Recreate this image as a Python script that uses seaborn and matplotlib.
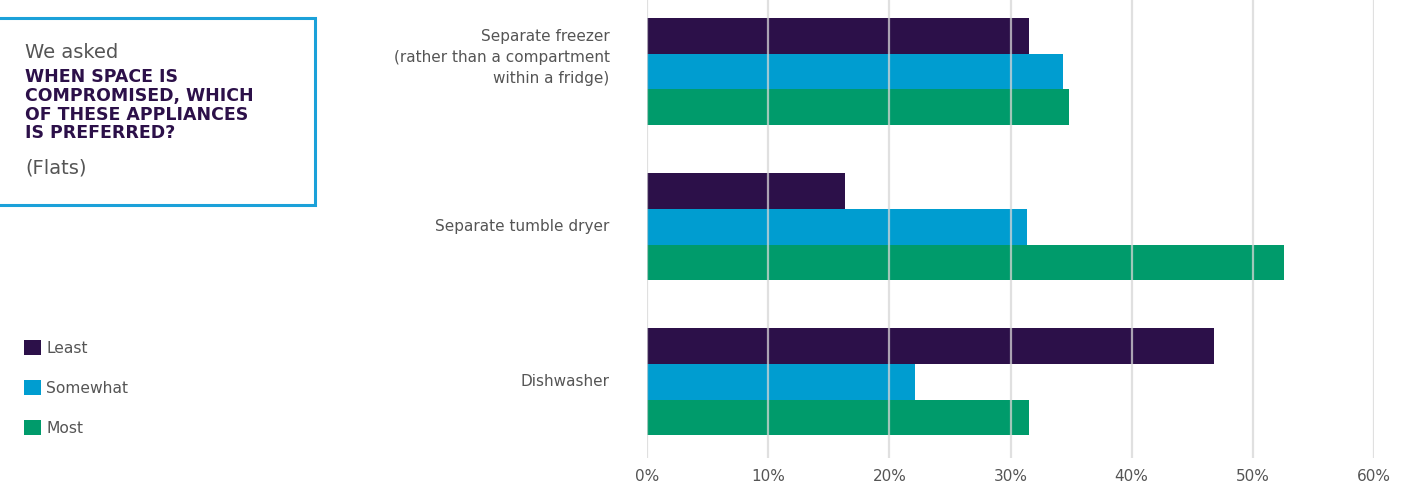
import matplotlib
matplotlib.use("Agg")
import matplotlib.pyplot as plt
import matplotlib.transforms as mtransforms
import seaborn as sns
import pandas as pd
from matplotlib.patches import Rectangle
from matplotlib.ticker import FuncFormatter

categories = ["Separate freezer\n(rather than a compartment\nwithin a fridge)",
              "Separate tumble dryer",
              "Dishwasher"]
series = ["Least", "Somewhat", "Most"]
least = [31.5, 16.3, 46.8]
somewhat = [34.3, 31.4, 22.1]
most = [34.8, 52.6, 31.5]
xticks = [0, 10, 20, 30, 40, 50, 60]
colors = ["#2c1049", "#009dd0", "#009b6b"]

rows = []
for s, vals in zip(series, [least, somewhat, most]):
    for c, v in zip(categories, vals):
        rows.append({"category": c, "series": s, "value": v})
df = pd.DataFrame(rows)

sns.set_theme(style="white")
plt.rcParams['font.family'] = ['DejaVu Sans']

fig = plt.figure(figsize=(14.2, 4.95), dpi=100)
ax = fig.add_axes([647/1420, 1-458/495, (1374-647)/1420, 458/495])

sns.barplot(data=df, y="category", x="value", hue="series", order=categories,
            hue_order=series, palette=colors, width=0.69, gap=0, orient="h",
            saturation=1, ax=ax, legend=True, linewidth=0, edgecolor="none")

ax.set_xlim(0, 60)
ax.set_ylim(2.49, -0.46)
ax.set_xticks(xticks)
ax.xaxis.set_major_formatter(FuncFormatter(lambda v, p: f"{int(v)}%"))
ax.set_xlabel("")
ax.set_ylabel("")
for s in ax.spines.values():
    s.set_visible(False)
ax.grid(axis="x", color="#d6d6d6", linewidth=1.6, alpha=0.75, zorder=5)
ax.set_axisbelow(False)
for l in ax.get_xgridlines():
    l.set_zorder(5)
ax.tick_params(axis="y", length=0, pad=27, labelsize=11, labelcolor="#555555")
ax.tick_params(axis="x", length=0, pad=8, labelsize=11, labelcolor="#555555")
ylabels = ax.get_yticklabels()
for t in ylabels:
    t.set_linespacing(1.5)
    t.set_multialignment("right")
ylabels[0].set_transform(ylabels[0].get_transform() +
                         mtransforms.ScaledTranslation(0, 18/100, fig.dpi_scale_trans))
for t in ylabels[1:]:
    t.set_transform(t.get_transform() +
                    mtransforms.ScaledTranslation(0, 2/100, fig.dpi_scale_trans))

handles, labels = ax.get_legend_handles_labels()
ax.get_legend().remove()
fig.legend(handles, labels, loc="upper left", bbox_to_anchor=(18/1420, 1-334/495),
           frameon=False, fontsize=11.2, handlelength=1.1, handleheight=1.1,
           handletextpad=0.3, labelspacing=1.55, labelcolor="#555555",
           borderaxespad=0)

# title box
fig.patches.append(Rectangle((-0.01, 1-205/495), 316/1420 + 0.01 - 1.5/1420, (205-18)/495,
                             transform=fig.transFigure, fill=False,
                             edgecolor="#1ba1d9", linewidth=2.2, clip_on=False))
fig.text(25/1420, 1-53/495, "We asked", fontsize=14, color="#555555", va="center")
bold_lines = ["WHEN SPACE IS", "COMPROMISED, WHICH", "OF THESE APPLIANCES", "IS PREFERRED?"]
for i, line in enumerate(bold_lines):
    fig.text(25/1420, 1-(77 + i*18.8)/495, line, fontsize=12.5, fontweight="bold",
             color="#2c1049", va="center")
fig.text(25/1420, 1-168/495, "(Flats)", fontsize=14, color="#555555", va="center")

fig.savefig("out.png", dpi=100)
